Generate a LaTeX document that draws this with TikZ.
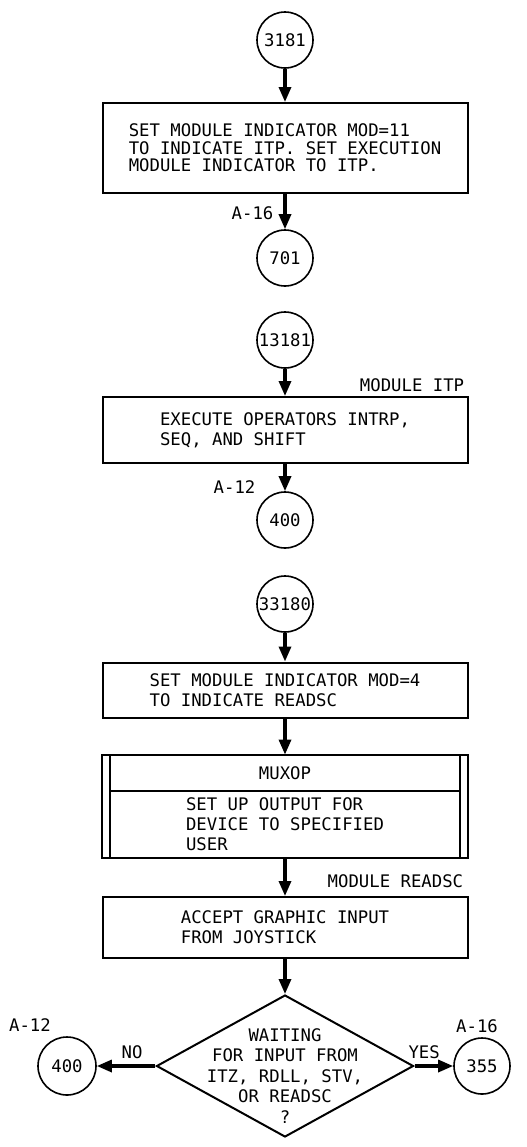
\documentclass[tikz,border=0pt]{standalone}
\usepackage{fontspec}
\setmainfont{DejaVu Sans Mono}
\usepackage{tikz}
\usetikzlibrary{arrows.meta,shapes.geometric}

\begin{document}
\begin{tikzpicture}[>={Triangle[length=7.5pt,width=6pt]},node distance=45pt,
                    font=\fontsize{8.65}{10}\selectfont]
    \tikzstyle{conn}=[circle,draw,line width=0.8pt,minimum size=28pt,inner sep=0pt]
    \tikzstyle{procbox}=[rectangle,draw,line width=1pt,minimum width=182.5pt,align=left,inner sep=0pt]
    \tikzstyle{procpart}=[rectangle,minimum width=182.5pt,align=left,inner sep=0pt]
    \tikzstyle{flow}=[->,line width=1.6pt]
    \tikzstyle{tag}=[inner sep=1pt]

    \useasboundingbox (0,0) rectangle (263pt,-573.5pt);

    % first page part
    \node[conn]    (c3181)                    at (142.5pt,-20pt)          {3181};
    \node[procbox,minimum height=45pt,font=\fontsize{8.65}{8.75}\selectfont]
                   (box1)[below of=c3181,node distance=54pt]
                   {SET MODULE INDICATOR MOD=11\\TO INDICATE ITP. SET EXECUTION\\MODULE INDICATOR TO ITP.};
    \node[conn]    (c701)[below of=box1,node distance=55pt]               {701};

    % module ITP
    \node[conn]    (c13181)[below of=c701,node distance=41pt]             {13181};
    \node[procbox,minimum height=33pt]
                   (box2)[below of=c13181,node distance=45pt]
                   {EXECUTE OPERATORS INTRP,\\SEQ, AND SHIFT};
    \node[tag,inner sep=2pt,anchor=south east] (modITP) at (box2.north east) {MODULE ITP};
    \node[conn]    (c400)[below of=box2,node distance=45pt]               {400};

    % module READSC
    \node[conn]    (c33180)[below of=c400,node distance=42pt]             {33180};
    \node[procbox,minimum height=27.5pt]
                   (box3)[below of=c33180,node distance=43pt]
                   {SET MODULE INDICATOR MOD=4\\TO INDICATE READSC};
    \node[procpart,minimum height=18pt]
                   (muxop)[below of=box3,node distance=41.5pt]            {MUXOP};
    \node[procpart,minimum height=33.5pt]
                   (muxdesc)[below of=muxop,node distance=25.75pt]
                   {SET UP OUTPUT FOR\\DEVICE TO SPECIFIED\\USER};
    \node[procbox,minimum height=30.5pt]
                   (box5)[below of=muxdesc,node distance=51.5pt]
                   {ACCEPT GRAPHIC INPUT\\FROM JOYSTICK};
    \node[tag,anchor=south east,xshift=-1.5pt,yshift=3pt] (modREADSC) at (box5.north east) {MODULE READSC};
    \node[diamond,draw,line width=1pt,minimum width=128.5pt,minimum height=71pt,inner sep=0pt,
          label={[align=center,yshift=-5pt,font=\fontsize{8.65}{10.25}\selectfont]center:{WAITING\\FOR INPUT FROM\\ITZ, RDLL, STV,\\OR READSC\\?}}]
                   (decide)[below of=box5,node distance=69.25pt]          {};
    \node[conn,minimum size=29pt,label={[tag,xshift=-18.5pt,label distance=1pt]above:A-12}]
                   (c400b)[left of=decide,node distance=109pt]            {400};
    \node[conn,label={[tag,xshift=-2.5pt,label distance=1pt]above:A-16}]
                   (c355)[right of=decide,node distance=98.5pt]           {355};

    % predefined process frame
    \draw[line width=1pt] (muxop.north west) rectangle (muxdesc.south east);
    \draw[line width=1pt] ([xshift=4pt]muxop.north west) -- ([xshift=4pt]muxdesc.south west);
    \draw[line width=1pt] ([xshift=-4pt]muxop.north east) -- ([xshift=-4pt]muxdesc.south east);
    \draw[line width=1pt] ([xshift=4pt]muxop.south west) -- ([xshift=-4pt]muxop.south east);

    \draw[flow] (c3181) -- (box1);
    \draw[flow] (box1) -- node[tag,left=4pt,pos=0.54] {A-16} (c701);
    \draw[flow] (c13181) -- (box2);
    \draw[flow] (box2) -- node[tag,left=13pt,pos=0.86] {A-12} (c400);
    \draw[flow] (c33180) -- (box3);
    \draw[flow] (box3) -- (muxop);
    \draw[flow] (muxdesc) -- (box5);
    \draw[flow] (box5) -- (decide);
    \draw[flow] (decide) -- node[tag,above=2pt,pos=0.4] {NO} (c400b);
    \draw[flow] (decide) -- node[tag,above=2pt,pos=0.25] {YES} (c355);
\end{tikzpicture}
\end{document}
